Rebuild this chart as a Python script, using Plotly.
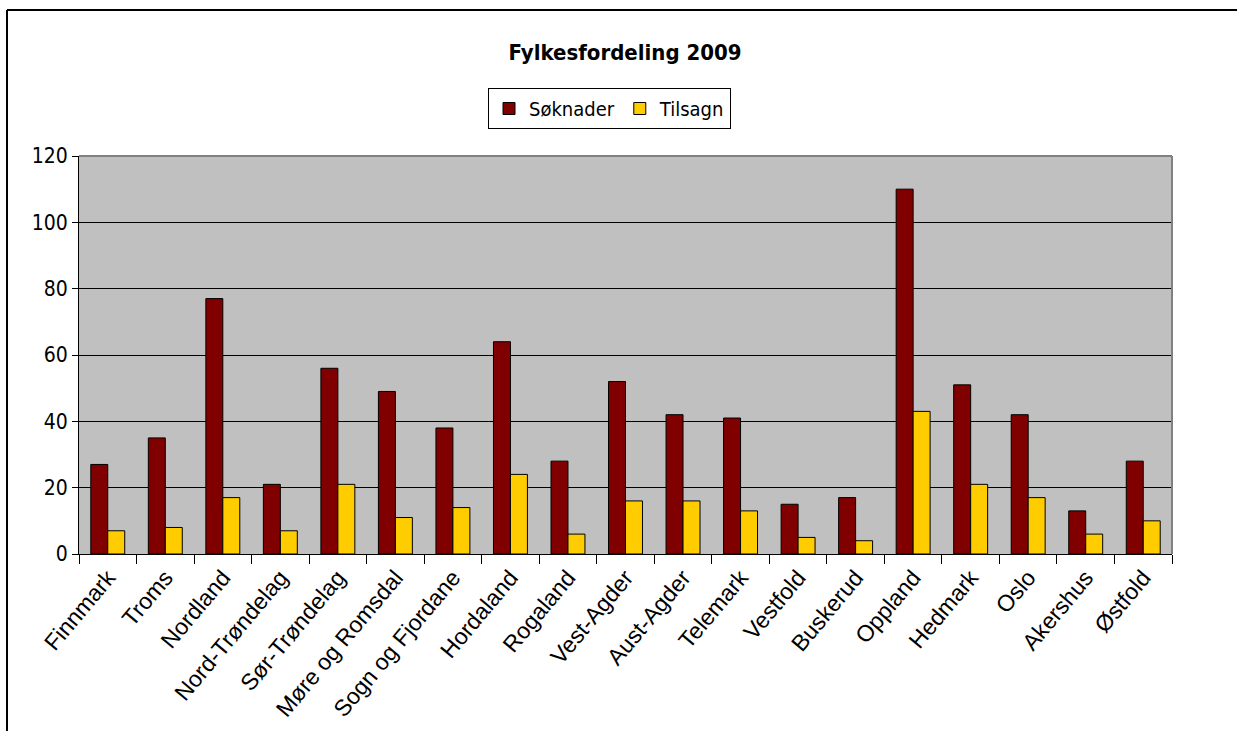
import plotly.graph_objects as go

categories = ["Finnmark", "Troms", "Nordland", "Nord-Trøndelag", "Sør-Trøndelag",
              "Møre og Romsdal", "Sogn og Fjordane", "Hordaland", "Rogaland",
              "Vest-Agder", "Aust-Agder", "Telemark", "Vestfold", "Buskerud",
              "Oppland", "Hedmark", "Oslo", "Akershus", "Østfold"]
soknader = [27, 35, 77, 21, 56, 49, 38, 64, 28, 52, 42, 41, 15, 17, 110, 51, 42, 13, 28]
tilsagn = [7, 8, 17, 7, 21, 11, 14, 24, 6, 16, 16, 13, 5, 4, 43, 21, 17, 6, 10]
y_ticks = [0, 20, 40, 60, 80, 100, 120]

F_NARROW = "DejaVu Sans Condensed, sans-serif"
F_XTICK = "Liberation Sans, Arial, sans-serif"

W, H = 1237, 731
L, R, T, B = 79, 65, 156, 177
pw, ph = W - L - R, H - T - B


def px(x):
    return (x - L) / pw


def py(y):
    return (H - B - y) / ph


fig = go.Figure()
fig.add_trace(go.Bar(name="Søknader", x=categories, y=soknader,
                     marker=dict(color="#800000", line=dict(color="black", width=1))))
fig.add_trace(go.Bar(name="Tilsagn", x=categories, y=tilsagn,
                     marker=dict(color="#FFCC00", line=dict(color="black", width=1))))

fig.update_layout(
    template="none",
    width=W, height=H, autosize=False,
    margin=dict(l=L, r=R, t=T, b=B, pad=0),
    paper_bgcolor="white",
    plot_bgcolor="#C0C0C0",
    barmode="group", bargap=0.41, bargroupgap=0,
    title=dict(text="<b>Fylkesfordeling 2009</b>", xref="container", yref="container",
               x=625 / W, y=1 - 52 / H, xanchor="center", yanchor="middle",
               font=dict(family=F_NARROW, size=22, color="black")),
    legend=dict(orientation="h", xref="paper", yref="paper",
                x=px(609.5), y=py(88), xanchor="center", yanchor="top",
                bgcolor="white", bordercolor="black", borderwidth=1,
                font=dict(family=F_NARROW, size=20, color="black"),
                itemwidth=30, traceorder="normal"),
    xaxis=dict(type="category", showline=True, linecolor="black", linewidth=1,
               ticks="outside", tickson="boundaries", ticklen=9, tickcolor="black",
               tickwidth=1, tickangle=-50, showgrid=False, automargin=False,
               tickfont=dict(family=F_XTICK, size=23, color="black")),
    yaxis=dict(range=[0, 120], tickvals=y_ticks, ticktext=[str(v) for v in y_ticks],
               showline=True, linecolor="black", linewidth=1, ticks="outside",
               ticklen=6, tickcolor="black", showgrid=True, gridcolor="black",
               gridwidth=1, zeroline=False, automargin=False,
               tickfont=dict(family=F_NARROW, size=21, color="black")),
    shapes=[
        dict(type="line", xref="paper", yref="paper", x0=0, x1=1, y0=1, y1=1,
             line=dict(color="#808080", width=2), layer="above"),
        dict(type="line", xref="paper", yref="paper", x0=1, x1=1, y0=0, y1=1,
             line=dict(color="#808080", width=2), layer="above"),
        dict(type="line", xref="paper", yref="paper", x0=px(7), x1=px(1245),
             y0=py(10), y1=py(10), line=dict(color="black", width=2)),
        dict(type="line", xref="paper", yref="paper", x0=px(7), x1=px(7),
             y0=py(10), y1=py(740), line=dict(color="black", width=2)),
    ],
)

fig.write_html("out.html", config={"displayModeBar": False},
               post_script="document.body.style.margin='0';")
